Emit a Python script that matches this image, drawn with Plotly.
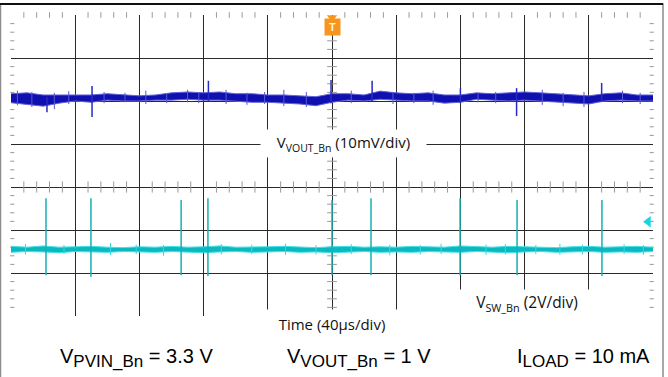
import numpy as np
import plotly.graph_objects as go

# scope screen: 10 div x 40 us, vertical in divisions (0 = bottom of visible grid)
t_env = list(range(0, 401, 10))

# VOUT_Bn ripple band (upper / lower edge of the noisy trace, in div)
vout_hi = [5.17, 5.19, 5.14, 5.14, 5.14, 5.14, 5.17, 5.14, 5.12, 5.14, 5.19,
           5.21, 5.19, 5.21, 5.17, 5.17, 5.14, 5.14, 5.12, 5.10, 5.17, 5.17,
           5.14, 5.23, 5.19, 5.17, 5.19, 5.14, 5.14, 5.19, 5.17, 5.19, 5.21,
           5.19, 5.17, 5.14, 5.12, 5.17, 5.19, 5.14, 5.14]
vout_lo = [4.96, 4.92, 4.88, 4.95, 5.00, 4.97, 5.02, 5.00, 5.00, 5.02, 5.02,
           5.04, 5.02, 5.02, 5.00, 4.97, 4.97, 4.95, 4.93, 4.89, 4.97, 5.02,
           5.00, 5.04, 5.02, 5.00, 5.00, 4.95, 4.97, 5.04, 5.02, 5.00, 5.02,
           5.00, 4.97, 4.95, 4.93, 5.00, 5.02, 5.00, 5.00]

# SW_Bn baseline band
sw_hi = [1.62, 1.60, 1.63, 1.60, 1.61, 1.62, 1.60, 1.59, 1.61, 1.60, 1.62,
         1.60, 1.61, 1.63, 1.60, 1.60, 1.61, 1.62, 1.60, 1.59, 1.61, 1.62,
         1.60, 1.61, 1.60, 1.62, 1.61, 1.60, 1.63, 1.61, 1.60, 1.62, 1.61,
         1.60, 1.59, 1.61, 1.62, 1.60, 1.61, 1.62, 1.60]
sw_lo = [1.48, 1.50, 1.49, 1.47, 1.50, 1.49, 1.48, 1.50, 1.49, 1.48, 1.50,
         1.49, 1.47, 1.49, 1.50, 1.48, 1.49, 1.50, 1.48, 1.49, 1.47, 1.49,
         1.50, 1.48, 1.49, 1.48, 1.50, 1.49, 1.48, 1.50, 1.49, 1.47, 1.49,
         1.50, 1.48, 1.49, 1.50, 1.48, 1.49, 1.48, 1.50]

# switching events (us) and spike extents (div)
vout_spike_t = [22.4, 50.5, 123.0, 199.4, 225.0, 280.0, 315.0, 368.0]
vout_spike_top = [5.10, 5.35, 5.47, 5.49, 5.47, 5.30, 5.30, 5.42]
vout_spike_bot = [4.74, 4.63, 4.98, 4.95, 5.00, 4.95, 4.65, 4.98]

sw_spike_t = [21.8, 49.8, 106.0, 122.7, 200.0, 224.3, 279.8, 315.3, 368.2]
sw_spike_top = [2.74, 2.74, 2.70, 2.74, 2.70, 2.74, 2.74, 2.70, 2.70]
sw_spike_bot = [0.95, 0.91, 0.95, 0.93, 0.95, 0.95, 0.95, 0.95, 0.93]

# small noise blips riding on the traces
vout_blip_t = [4, 13, 27, 36, 58, 71, 84, 97, 110, 117, 134, 147, 158, 170,
               184, 212, 238, 251, 263, 291, 302, 331, 344, 357, 381, 392]
vout_blip_top = [5.24, 5.21, 5.19, 5.23, 5.21, 5.19, 5.24, 5.17, 5.26, 5.21,
                 5.26, 5.19, 5.21, 5.26, 5.21, 5.24, 5.21, 5.19, 5.24, 5.17,
                 5.21, 5.26, 5.19, 5.21, 5.24, 5.19]
vout_blip_bot = [4.90, 4.86, 4.81, 4.93, 4.95, 4.97, 4.93, 4.95, 4.97, 4.95,
                 4.93, 4.91, 4.93, 4.88, 4.86, 4.95, 4.93, 4.95, 4.91, 4.97,
                 4.95, 4.91, 4.88, 4.86, 4.95, 4.93]

sw_blip_t = [9, 33, 62, 78, 95, 131, 150, 171, 190, 212, 236, 255, 268, 296,
             308, 327, 342, 356, 382, 394]
sw_blip_top = [1.67, 1.65, 1.70, 1.66, 1.65, 1.67, 1.66, 1.68, 1.65, 1.67,
               1.66, 1.65, 1.68, 1.66, 1.67, 1.65, 1.68, 1.66, 1.67, 1.65]
sw_blip_bot = [1.43, 1.44, 1.42, 1.44, 1.40, 1.43, 1.44, 1.42, 1.43, 1.44,
               1.41, 1.43, 1.44, 1.42, 1.43, 1.44, 1.42, 1.43, 1.44, 1.42]


def spike_xy(ts, tops, bots):
    xs, ys = [], []
    for t, a, b in zip(ts, tops, bots):
        xs += [t, t, None]
        ys += [a, b, None]
    return xs, ys


fig = go.Figure()

# minor graticule ticks
x_minor = [v for v in np.arange(0, 401, 8) if v % 40 != 0]
y_minor = [round(v, 1) for v in np.arange(0.2, 7.0, 0.2) if abs(v - round(v)) > 0.05]
tick_col = '#9a9a9a'
for xs, ys, sym, sz in [
    (x_minor, [7] * len(x_minor), 'line-ns', 4),
    (x_minor, [3] * len(x_minor), 'line-ns', 8),
    ([0.8] * len(y_minor), y_minor, 'line-ew', 3),
    ([399.2] * len(y_minor), y_minor, 'line-ew', 3),
    ([200] * len(y_minor), y_minor, 'line-ew', 7),
]:
    fig.add_trace(go.Scatter(x=xs, y=ys, mode='markers', cliponaxis=False,
                             marker=dict(symbol=sym, size=sz, line=dict(width=1, color=tick_col)),
                             hoverinfo='skip', showlegend=False))

# VOUT trace
fig.add_trace(go.Scatter(x=t_env, y=vout_hi, mode='lines', line=dict(color='#6464d8', width=1),
                         showlegend=False))
fig.add_trace(go.Scatter(x=t_env, y=vout_lo, mode='lines', line=dict(color='#6464d8', width=1),
                         fill='tonexty', fillcolor='#1010b0', showlegend=False))
sx, sy = spike_xy(vout_blip_t, vout_blip_top, vout_blip_bot)
fig.add_trace(go.Scatter(x=sx, y=sy, mode='lines', line=dict(color='#5858d4', width=1),
                         showlegend=False))
sx, sy = spike_xy(vout_spike_t, vout_spike_top, vout_spike_bot)
fig.add_trace(go.Scatter(x=sx, y=sy, mode='lines', line=dict(color='#2a2ac4', width=1.5),
                         showlegend=False))

# SW trace
fig.add_trace(go.Scatter(x=t_env, y=sw_hi, mode='lines', line=dict(color='#45e0e8', width=1),
                         showlegend=False))
fig.add_trace(go.Scatter(x=t_env, y=sw_lo, mode='lines', line=dict(color='#45e0e8', width=1),
                         fill='tonexty', fillcolor='#0ab8bf', showlegend=False))
sx, sy = spike_xy(sw_blip_t, sw_blip_top, sw_blip_bot)
fig.add_trace(go.Scatter(x=sx, y=sy, mode='lines', line=dict(color='#3ad6de', width=1),
                         showlegend=False))
sx, sy = spike_xy(sw_spike_t, sw_spike_top, sw_spike_bot)
fig.add_trace(go.Scatter(x=sx, y=sy, mode='lines', line=dict(color='#16b0b4', width=1.5),
                         showlegend=False))

# trigger and channel markers
fig.add_trace(go.Scatter(x=[200], y=[6.94], mode='markers', cliponaxis=False,
                         marker=dict(symbol='triangle-down', size=9, color='#f7961e'),
                         showlegend=False))
fig.add_trace(go.Scatter(x=[397], y=[2.19], mode='markers', cliponaxis=False,
                         marker=dict(symbol='triangle-left', size=10, color='#10d8e0'),
                         showlegend=False))

lab_font = dict(family='Open Sans', size=15, color='#111')
big_font = dict(family='Liberation Sans, Arial', size=20, color='#000')
sub = '<sub><span style="font-size:17px">{}</span></sub>'

annotations = [
    dict(x=200, y=6.72, text='<b>T</b>', showarrow=False, bgcolor='#f7961e',
         font=dict(family='Liberation Sans', size=11, color='#fff3dc'), width=13, height=14),
    dict(x=207, y=4.01, text='V<sub>VOUT_Bn</sub> (10mV/div)', showarrow=False,
         bgcolor='white', font=lab_font, width=163, height=25),
    dict(x=321.5, y=0.30, text='V<sub>SW_Bn</sub> (2V/div)', showarrow=False,
         bgcolor='white', font=dict(lab_font, size=15.5), width=140, height=24),
    dict(x=200, y=-0.030, yref='paper', yshift=-14, text='Time (40µs/div)', showarrow=False,
         bgcolor='white', font=lab_font, width=150, height=26),
    dict(x=78.5, y=-0.136, yref='paper', yshift=-16, text='V' + sub.format('PVIN_Bn') + ' = 3.3 V',
         showarrow=False, font=big_font),
    dict(x=216.8, y=-0.136, yref='paper', yshift=-16, text='V' + sub.format('VOUT_Bn') + ' = 1 V',
         showarrow=False, font=big_font),
    dict(x=356.4, y=-0.136, yref='paper', yshift=-16, text='I' + sub.format('LOAD') + ' = 10 mA',
         showarrow=False, font=big_font),
]

shapes = [
    dict(type='rect', xref='paper', yref='paper', x0=-0.0164, x1=1.0156, y0=-0.25, y1=1.0365,
         line=dict(color='#8c8c8c', width=1.5), layer='above'),
    dict(type='line', xref='paper', yref='paper', x0=-0.018, x1=1.0156, y0=1.0365, y1=1.0365,
         line=dict(color='#111', width=2), layer='above'),
]

fig.update_layout(
    width=668, height=377,
    margin=dict(l=11, r=15, t=15, b=61, autoexpand=False),
    paper_bgcolor='white', plot_bgcolor='white',
    annotations=annotations, shapes=shapes,
    xaxis=dict(range=[0, 400], tickvals=list(range(40, 400, 40)), showticklabels=False,
               showgrid=True, gridcolor='#2a2a2a', gridwidth=1, zeroline=False, showline=False),
    yaxis=dict(range=[0, 7], tickvals=list(range(1, 7)), showticklabels=False,
               showgrid=True, gridcolor='#2a2a2a', gridwidth=1, zeroline=False, showline=False),
)

fig.write_html("out.html", config={'displayModeBar': False},
               post_script="document.body.style.margin='0';")
